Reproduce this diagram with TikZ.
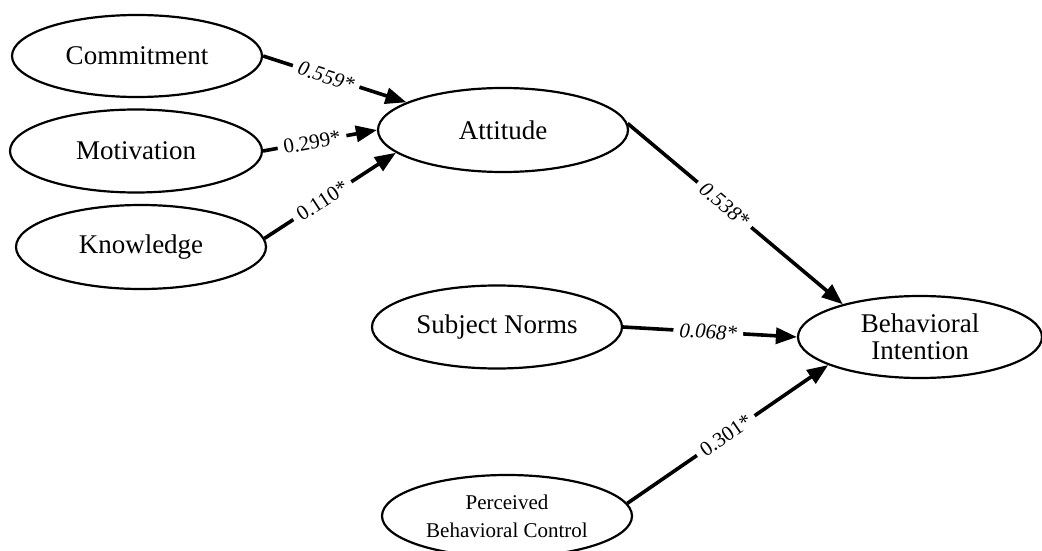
\documentclass[tikz,border=0pt]{standalone}
\usepackage{fontspec}
\setmainfont{Liberation Serif}
\usetikzlibrary{shapes.geometric,arrows.meta}
\begin{document}
\begin{tikzpicture}[x=1pt,y=-1pt,
  latent/.style={draw,ellipse,line width=2.2pt,inner sep=0pt,align=center,
    font=\fontsize{27}{27}\selectfont},
  effect/.style={line width=3.6pt,-{Triangle[length=21pt,width=16pt]}},
  coef/.style={fill=white,inner xsep=6pt,inner ysep=1pt,sloped,
    font=\fontsize{21}{24}\selectfont}]
\useasboundingbox (0,0) rectangle (1042,551);
\node[latent,minimum width=250pt,minimum height=82pt] (com) at (137,56) {Commitment};
\node[latent,minimum width=252pt,minimum height=83pt] (mot) at (136,151) {Motivation};
\node[latent,minimum width=250pt,minimum height=84pt] (kno) at (141,247) {Knowledge};
\node[latent,minimum width=250pt,minimum height=84pt] (att) at (503,130) {Attitude};
\node[latent,minimum width=250pt,minimum height=83pt] (sn) at (497,327) {Subject Norms};
\node[latent,minimum width=250pt,minimum height=82pt,
  font=\fontsize{21}{28}\selectfont] (pbc) at (507,516) {Perceived\\Behavioral Control};
\node[latent,minimum width=244pt,minimum height=82pt] (bi) at (920,337) {Behavioral\\Intention};

\draw[effect] (com.east) -- node[coef,pos=0.44]{\itshape 0.559*} (att.164);
\draw[effect] (mot.east) -- node[coef,pos=0.43]{0.299*} (att.west);
\draw[effect] (kno.4) -- node[coef,pos=0.44]{0.110*} (att.192);
\draw[effect] (att.3) -- node[coef,pos=0.45]{\itshape 0.538*} (bi.157);
\draw[effect] (sn.east) -- node[coef,pos=0.49]{\itshape 0.068*} (bi.west);
\draw[effect] (pbc.6) -- node[coef,pos=0.49]{0.301*} (bi.197);
\end{tikzpicture}
\end{document}
